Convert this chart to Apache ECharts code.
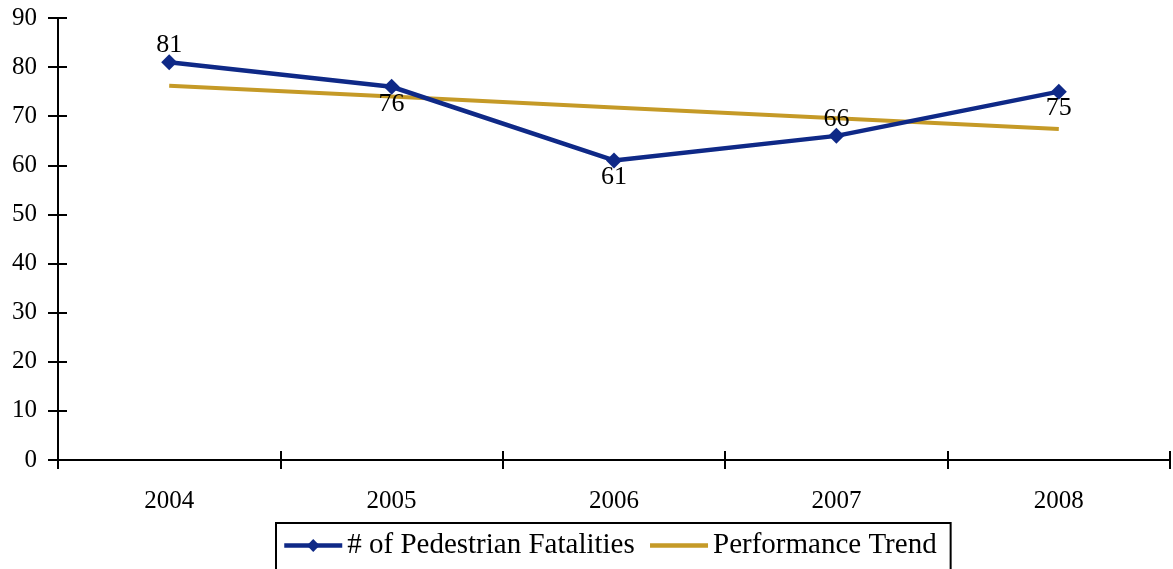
<!DOCTYPE html>
<html>
<head>
<meta charset="utf-8">
<script src="https://cdn.jsdelivr.net/npm/echarts@6/dist/echarts.min.js"></script>
<style>
  html, body { margin: 0; padding: 0; background: #fff; }
  #chart { width: 1173px; height: 569px; }
</style>
</head>
<body>
<div id="chart"></div>
<script>
const years = ['2004', '2005', '2006', '2007', '2008'];
const fatalities = [81, 76, 61, 66, 75];
const trend = [76.2, 74.0, 71.8, 69.6, 67.4];
const labelPos = ['top', 'bottom', 'bottom', 'top', 'bottom'];

const font = 'Liberation Serif';
const myChart = echarts.init(document.getElementById('chart'));

const tickStyle = { color: '#000', width: 2 };

const option = {
  animation: false,
  grid: { left: 58, right: 3, top: 18, bottom: 109 },
  legend: {
    left: 276,
    top: 523,
    itemGap: 13,
    padding: [8, 14, 30, 6],
    borderColor: '#000',
    borderWidth: 2,
    itemWidth: 58,
    itemHeight: 16,
    lineStyle: { width: 4.5 },
    textStyle: { fontFamily: font, fontSize: 29, color: '#000' },
    data: [
      { name: '# of Pedestrian Fatalities' },
      { name: 'Performance Trend', itemStyle: { opacity: 0 } }
    ]
  },
  xAxis: [
    {
      type: 'category',
      data: years,
      boundaryGap: true,
      axisLine: { show: true, lineStyle: tickStyle },
      axisTick: { show: true, length: 9, lineStyle: tickStyle },
      axisLabel: { fontFamily: font, fontSize: 25, color: '#000', margin: 29 }
    },
    {
      type: 'category',
      data: years,
      position: 'bottom',
      boundaryGap: true,
      axisLine: { show: false },
      axisTick: { show: true, inside: true, length: 9, lineStyle: tickStyle },
      axisLabel: { show: false }
    }
  ],
  yAxis: [
    {
      type: 'value',
      min: 0,
      max: 90,
      interval: 10,
      axisLine: { show: true, lineStyle: tickStyle },
      axisTick: { show: true, length: 10, lineStyle: tickStyle },
      splitLine: { show: false },
      axisLabel: { fontFamily: font, fontSize: 25, color: '#000', margin: 21 }
    },
    {
      type: 'value',
      min: 0,
      max: 90,
      interval: 10,
      position: 'left',
      axisLine: { show: false },
      axisTick: { show: true, inside: true, length: 9, lineStyle: tickStyle },
      splitLine: { show: false },
      axisLabel: { show: false }
    }
  ],
  series: [
    {
      name: 'Performance Trend',
      type: 'line',
      data: trend,
      symbol: 'none',
      z: 2,
      lineStyle: { color: '#C59A27', width: 4 },
      itemStyle: { color: '#C59A27' }
    },
    {
      name: '# of Pedestrian Fatalities',
      type: 'line',
      data: fatalities.map((v, i) => ({
        value: v,
        label: { position: labelPos[i] }
      })),
      symbol: 'diamond',
      symbolSize: 16,
      z: 3,
      lineStyle: { color: '#0F2987', width: 4.5 },
      itemStyle: { color: '#0F2987' },
      label: {
        show: true,
        fontFamily: font,
        fontSize: 26,
        color: '#000',
        distance: -4
      }
    }
  ]
};

myChart.setOption(option);
</script>
</body>
</html>
